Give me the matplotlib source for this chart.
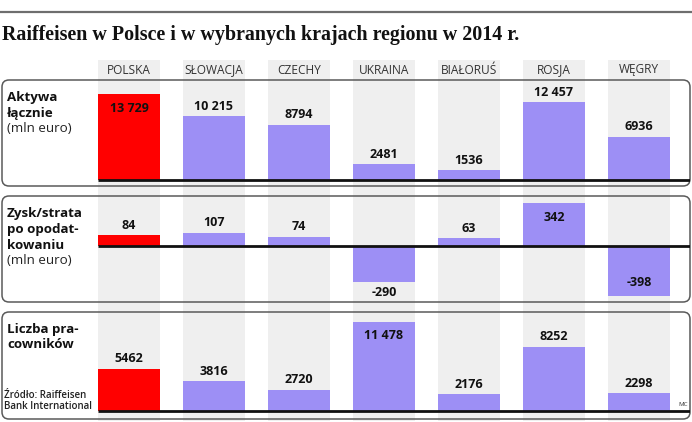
import matplotlib.pyplot as plt
from matplotlib.patches import FancyBboxPatch

W, H = 692, 422

countries = ['POLSKA', 'SŁOWACJA', 'CZECHY', 'UKRAINA', 'BIAŁORUŚ', 'ROSJA', 'WĘGRY']
aktywa = [13729, 10215, 8794, 2481, 1536, 12457, 6936]
zysk = [84, 107, 74, -290, 63, 342, -398]
pracownicy = [5462, 3816, 2720, 11478, 2176, 8252, 2298]

title = 'Raiffeisen w Polsce i w wybranych krajach regionu w 2014 r.'
row_titles = [
    (['Aktywa', 'łącznie'], ['(mln euro)']),
    (['Zysk/strata', 'po opodat-', 'kowaniu'], ['(mln euro)']),
    (['Liczba pra-', 'cowników'], []),
]
source = ['Źródło: Raiffeisen', 'Bank International']

RED = '#ff0000'
PURPLE = '#9d8ff5'
GRAY_COL = '#efefef'
SANS = ['Open Sans', 'DejaVu Sans']

plt.rcParams['font.family'] = SANS

fig = plt.figure(figsize=(W / 100, H / 100), dpi=100)


def fx(x):
    return x / W


def fy(y):
    return 1 - y / H


def add_axes_px(x0, y0, x1, y1):
    return fig.add_axes([fx(x0), fy(y1), (x1 - x0) / W, (y1 - y0) / H])


def fmt(v):
    if abs(v) >= 10000:
        return f'{v:,}'.replace(',', ' ')
    return str(v)


# column geometry (pixels)
col_step = 85
ax_left = 129 - 0.5 * col_step
ax_right = 690
xlim = (-0.5, (ax_right - ax_left) / col_step - 0.5)
bar_w = 0.73
x = list(range(len(countries)))

# top rule
fig.add_artist(plt.Line2D([0, 1], [fy(12), fy(12)], color='#6e6e6e', lw=1.6,
                          transform=fig.transFigure))

fig.text(fx(2), fy(35), title, family='Liberation Serif', weight='bold',
         fontsize=14.4, va='center', ha='left', color='#111111')

# gray column backgrounds + headers
bg = add_axes_px(ax_left, 60, ax_right, 421)
bg.set_xlim(xlim)
bg.set_ylim(0, 1)
bg.bar(x, [1] * len(x), width=bar_w, bottom=0, color=GRAY_COL, lw=0)
bg.axis('off')
bg.set_zorder(0)

for i, c in enumerate(countries):
    fig.text(fx(ax_left + (i + 0.5) * col_step), fy(70), c, ha='center',
             va='center', fontsize=8.6, color='#333333')

panels = [
    (aktywa, 80, 186, 180, 6.26 / 1000),
    (zysk, 196, 302, 246, 0.125),
    (pracownicy, 312, 419, 411, 7.76 / 1000),
]

for (vals, top, bottom, base, scale), (bold_lines, reg_lines) in zip(panels, row_titles):
    # rounded frame
    fig.add_artist(FancyBboxPatch((2 / 100, (H - bottom) / 100), 688 / 100,
                                  (bottom - top) / 100,
                                  boxstyle='round,pad=0,rounding_size=0.07',
                                  transform=fig.dpi_scale_trans, fill=False,
                                  ec='#5a5a5a', lw=1.1, zorder=2))
    ax = add_axes_px(ax_left, top, ax_right, bottom)
    ax.set_zorder(3)
    ax.patch.set_alpha(0)
    ax.set_xlim(xlim)
    ax.set_ylim(-(bottom - base) / scale, (base - top) / scale)
    ax.axis('off')
    colors = [RED if i == 0 else PURPLE for i in x]
    ax.bar(x, vals, width=bar_w, color=colors, lw=0, zorder=2)
    ax.plot([-bar_w / 2, xlim[1]], [0, 0], color='#111111', lw=2,
            solid_capstyle='butt', zorder=3)

    pmax = max(vals)
    nmin = min(vals)
    for i, v in enumerate(vals):
        inside = (v > 0 and v == pmax) or (v < 0 and v == nmin)
        if v >= 0:
            off = -14 if inside else 10
        else:
            off = 13 if inside else -10
        ax.annotate(fmt(v), (i, v), xytext=(0, off), textcoords='offset pixels',
                    ha='center', va='center', fontsize=9, weight='bold',
                    color='#111111', zorder=4)

    # row titles
    y = top + 17
    for line in bold_lines:
        fig.text(fx(7), fy(y), line, ha='left', va='center', fontsize=9.6,
                 weight='bold', color='#111111')
        y += 16
    for line in reg_lines:
        fig.text(fx(7), fy(y), line, ha='left', va='center', fontsize=9.6,
                 color='#222222')
        y += 16

for j, line in enumerate(source):
    fig.text(fx(4), fy(395 + j * 11.5), line, ha='left', va='center',
             fontsize=7, weight='semibold', color='#222222')

fig.text(fx(683), fy(405), 'MC', ha='center', va='center', fontsize=4.5,
         color='#333333')

fig.savefig('out.png', dpi=100)
